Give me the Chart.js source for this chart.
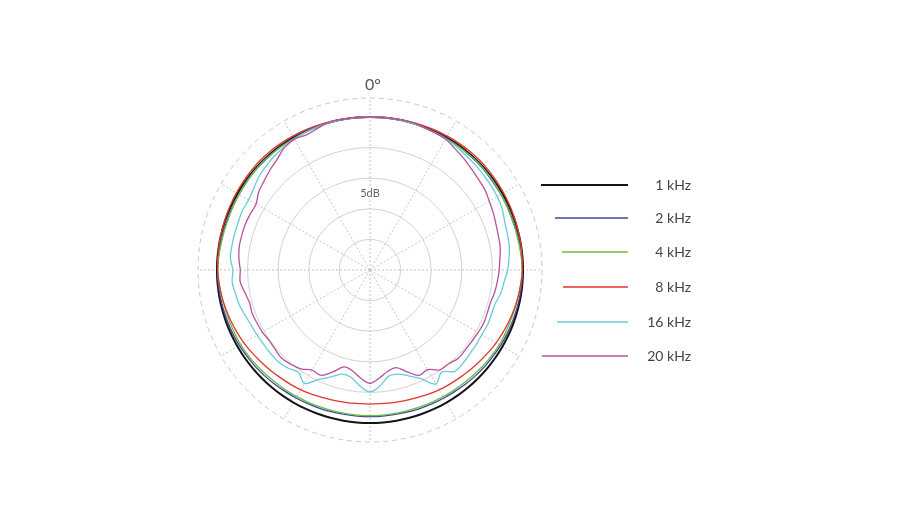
<!DOCTYPE html>
<html>
<head>
<meta charset="utf-8">
<script src="https://cdn.jsdelivr.net/npm/chart.js@4.4.1/dist/chart.umd.min.js"></script>
<style>
  html, body { margin: 0; padding: 0; background: #fff; }
  #wrap { width: 906px; height: 511px; position: relative; }
</style>
</head>
<body>
<div id="wrap"><canvas id="polar"></canvas></div>
<script>
// angle of each measurement, degrees clockwise from the front
const angles = [
  0, 5, 10, 15, 20, 25, 30, 35, 40, 45, 50, 55,
  60, 65, 70, 75, 80, 85, 90, 95, 100, 105, 110, 115,
  120, 125, 130, 135, 140, 145, 150, 155, 160, 165, 170, 175,
  180, 185, 190, 195, 200, 205, 210, 215, 220, 225, 230, 235,
  240, 245, 250, 255, 260, 265, 270, 275, 280, 285, 290, 295,
  300, 305, 310, 315, 320, 325, 330, 335, 340, 345, 350, 355
];

// level in dB relative to the on-axis response
const khz1 = [
  0, 0, 0, 0, 0, 0, 0, 0, 0, 0, 0, 0,
  0, 0, 0, 0, 0, 0, 0, 0, 0, 0, 0, 0,
  0, 0, 0, 0, 0, 0, 0, 0, 0, 0, 0, 0,
  0, 0, 0, 0, 0, 0, 0, 0, 0, 0, 0, 0,
  0, 0, 0, 0, 0, 0, 0, 0, 0, 0, 0, 0,
  0, 0, 0, 0, 0, 0, 0, 0, 0, 0, 0, 0
];
const khz2 = [
  0, 0, 0, 0, -0.05, -0.1, -0.1, -0.15, -0.2, -0.2, -0.25, -0.3,
  -0.3, -0.3, -0.3, -0.25, -0.2, -0.15, -0.1, -0.1, -0.15, -0.2, -0.25, -0.3,
  -0.35, -0.45, -0.5, -0.6, -0.7, -0.8, -0.85, -0.9, -0.95, -1.0, -1.05, -1.05,
  -1.05, -1.05, -1.05, -1.0, -0.95, -0.9, -0.85, -0.8, -0.7, -0.6, -0.5, -0.45,
  -0.35, -0.3, -0.25, -0.2, -0.15, -0.1, -0.1, -0.15, -0.2, -0.25, -0.3, -0.3,
  -0.3, -0.25, -0.2, -0.2, -0.15, -0.1, -0.1, -0.05, 0, 0, 0, 0
];
const khz4 = [
  0, 0, 0, -0.05, -0.1, -0.15, -0.2, -0.2, -0.15, -0.1, -0.15, -0.2,
  -0.3, -0.35, -0.4, -0.35, -0.3, -0.2, -0.1, -0.25, -0.4, -0.5, -0.6, -0.6,
  -0.6, -0.7, -0.8, -0.9, -1.0, -1.05, -1.1, -1.15, -1.2, -1.2, -1.2, -1.2,
  -1.2, -1.2, -1.2, -1.2, -1.2, -1.15, -1.1, -1.05, -1.0, -0.9, -0.8, -0.7,
  -0.6, -0.6, -0.55, -0.5, -0.4, -0.25, -0.1, -0.2, -0.3, -0.35, -0.4, -0.35,
  -0.3, -0.2, -0.15, -0.1, -0.15, -0.2, -0.2, -0.15, -0.1, -0.05, 0, 0
];
const khz8 = [
  0, 0.02, 0.05, 0.1, 0.15, 0.2, 0.25, 0.3, 0.35, 0.35, 0.3, 0.25,
  0.2, 0.15, 0.1, 0.05, 0, -0.05, -0.1, -0.25, -0.4, -0.6, -0.8, -1.0,
  -1.2, -1.45, -1.7, -1.9, -2.1, -2.25, -2.4, -2.6, -2.8, -2.9, -3.0, -3.1,
  -3.1, -3.1, -3.0, -2.9, -2.8, -2.6, -2.4, -2.25, -2.1, -1.9, -1.7, -1.45,
  -1.2, -1.0, -0.8, -0.6, -0.4, -0.25, -0.1, -0.05, 0, 0.05, 0.1, 0.15,
  0.2, 0.25, 0.3, 0.35, 0.35, 0.3, 0.25, 0.2, 0.15, 0.1, 0.05, 0.02
];
const khz16 = [
  0, 0, 0, 0, -0.1, -0.2, -0.3, -0.4, -0.6, -0.7, -0.8, -0.9,
  -1.0, -1.2, -1.6, -1.8, -1.9, -2.2, -2.5, -3.0, -3.3, -3.8, -3.9, -3.8,
  -3.9, -3.8, -3.7, -3.5, -3.4, -4.6, -3.5, -5.4, -6.6, -7.4, -7.4, -6.0,
  -5.1, -6.0, -7.2, -7.4, -6.4, -5.3, -3.6, -4.6, -4.1, -3.8, -3.8, -3.8,
  -3.7, -3.6, -3.3, -2.9, -2.7, -2.4, -2.6, -2.1, -2.1, -2.1, -2.1, -2.0,
  -2.1, -1.8, -1.3, -1.0, -0.7, -0.5, -0.3, -0.2, -0.1, 0, 0, 0
];
const khz20 = [
  0, 0, 0, 0.1, -0.1, -0.2, -0.3, -0.8, -1.2, -1.6, -1.9, -2.1,
  -2.5, -2.8, -3.1, -3.3, -3.4, -3.7, -3.9, -4.1, -4.3, -4.6, -4.6, -4.5,
  -4.6, -4.7, -4.7, -4.6, -5.0, -5.1, -6.2, -6.0, -7.3, -8.5, -8.2, -7.3,
  -6.5, -7.3, -8.3, -8.6, -7.3, -6.0, -6.1, -5.3, -4.9, -4.6, -4.8, -4.9,
  -4.7, -4.6, -4.5, -4.6, -4.2, -3.7, -3.8, -3.5, -3.3, -3.3, -3.3, -3.4,
  -3.5, -2.8, -2.4, -1.9, -1.4, -0.6, -0.3, -0.6, -0.3, 0.1, 0, 0
];

const seriesNames = ['1 kHz', '2 kHz', '4 kHz', '8 kHz', '16 kHz', '20 kHz'];
const seriesColors = ['#141414', '#3e4a9b', '#6cbd47', '#e0362e', '#68cbd8', '#b4529f'];

// ring values: 5 dB steps up to 0 dB, plus the outer dashed reference ring
const ringTicks = [-25, -20, -15, -10, -5, 0, 3.1];

const seriesData = [khz1, khz2, khz4, khz8, khz16, khz20];

const labelsPlugin = {
  id: 'polarLabels',
  beforeDatasetsDraw(chart) {
    const ctx = chart.ctx;
    const r = chart.scales.r;
    ctx.save();
    // 0 degree marker above the outer ring
    ctx.fillStyle = '#555';
    ctx.font = '16px Lato, "Open Sans", sans-serif';
    ctx.textAlign = 'center';
    ctx.textBaseline = 'middle';
    ctx.fillText('0°', r.xCenter + 3, r.yCenter - r.drawingArea - 13);
    // ring label
    const y = r.yCenter - (r.getDistanceFromCenterForValue(-15) + r.getDistanceFromCenterForValue(-10)) / 2;
    ctx.fillStyle = '#fff';
    ctx.fillRect(r.xCenter - 14, y - 7, 28, 14);
    ctx.fillStyle = '#666';
    ctx.font = '11px Lato, "Open Sans", sans-serif';
    ctx.fillText('5dB', r.xCenter, y);
    ctx.restore();
  },
  afterDraw(chart) {
    const ctx = chart.ctx;
    const starts = [541, 555, 562, 563, 557, 542];
    const rows = [185, 218, 252, 287, 322, 356];
    ctx.save();
    ctx.font = '14px Lato, "Open Sans", sans-serif';
    ctx.textAlign = 'right';
    ctx.textBaseline = 'middle';
    seriesNames.forEach((name, i) => {
      ctx.strokeStyle = seriesColors[i];
      ctx.lineWidth = i === 0 ? 2 : 1.5;
      ctx.beginPath();
      ctx.moveTo(starts[i], rows[i]);
      ctx.lineTo(628, rows[i]);
      ctx.stroke();
      ctx.fillStyle = '#444';
      ctx.fillText(name, 691, rows[i]);
    });
    ctx.restore();
  }
};

new Chart(document.getElementById('polar'), {
  type: 'radar',
  data: {
    labels: angles.map(a => a + '°'),
    datasets: seriesData.map((vals, i) => ({
      label: seriesNames[i],
      data: vals,
      borderColor: seriesColors[i],
      borderWidth: i === 0 ? 2 : 1.3,
      pointRadius: 0,
      pointHoverRadius: 0,
      fill: false,
      tension: 0.35,
      order: seriesData.length - i
    }))
  },
  options: {
    responsive: true,
    maintainAspectRatio: false,
    animation: false,
    layout: { padding: { left: 198, right: 364, top: 98, bottom: 69 } },
    plugins: { legend: { display: false }, tooltip: { enabled: false } },
    scales: {
      r: {
        min: -25,
        max: 3.1,
        afterBuildTicks: (scale) => {
          scale.ticks = ringTicks.map(v => ({ value: v }));
        },
        ticks: { display: false },
        pointLabels: { display: false },
        grid: {
          circular: true,
          color: (c) => c.tick && c.tick.value > 0 ? '#c8c8c8' : '#d2d2d2',
          lineWidth: 1
        },
        border: {
          dash: (c) => c.tick && c.tick.value > 0 ? [5, 4] : []
        },
        angleLines: {
          color: '#c4c4c4',
          lineWidth: (c) => c.index % 6 === 0 ? 1 : 0,
          borderDash: [2, 2]
        }
      }
    }
  },
  plugins: [labelsPlugin]
});
</script>
</body>
</html>
